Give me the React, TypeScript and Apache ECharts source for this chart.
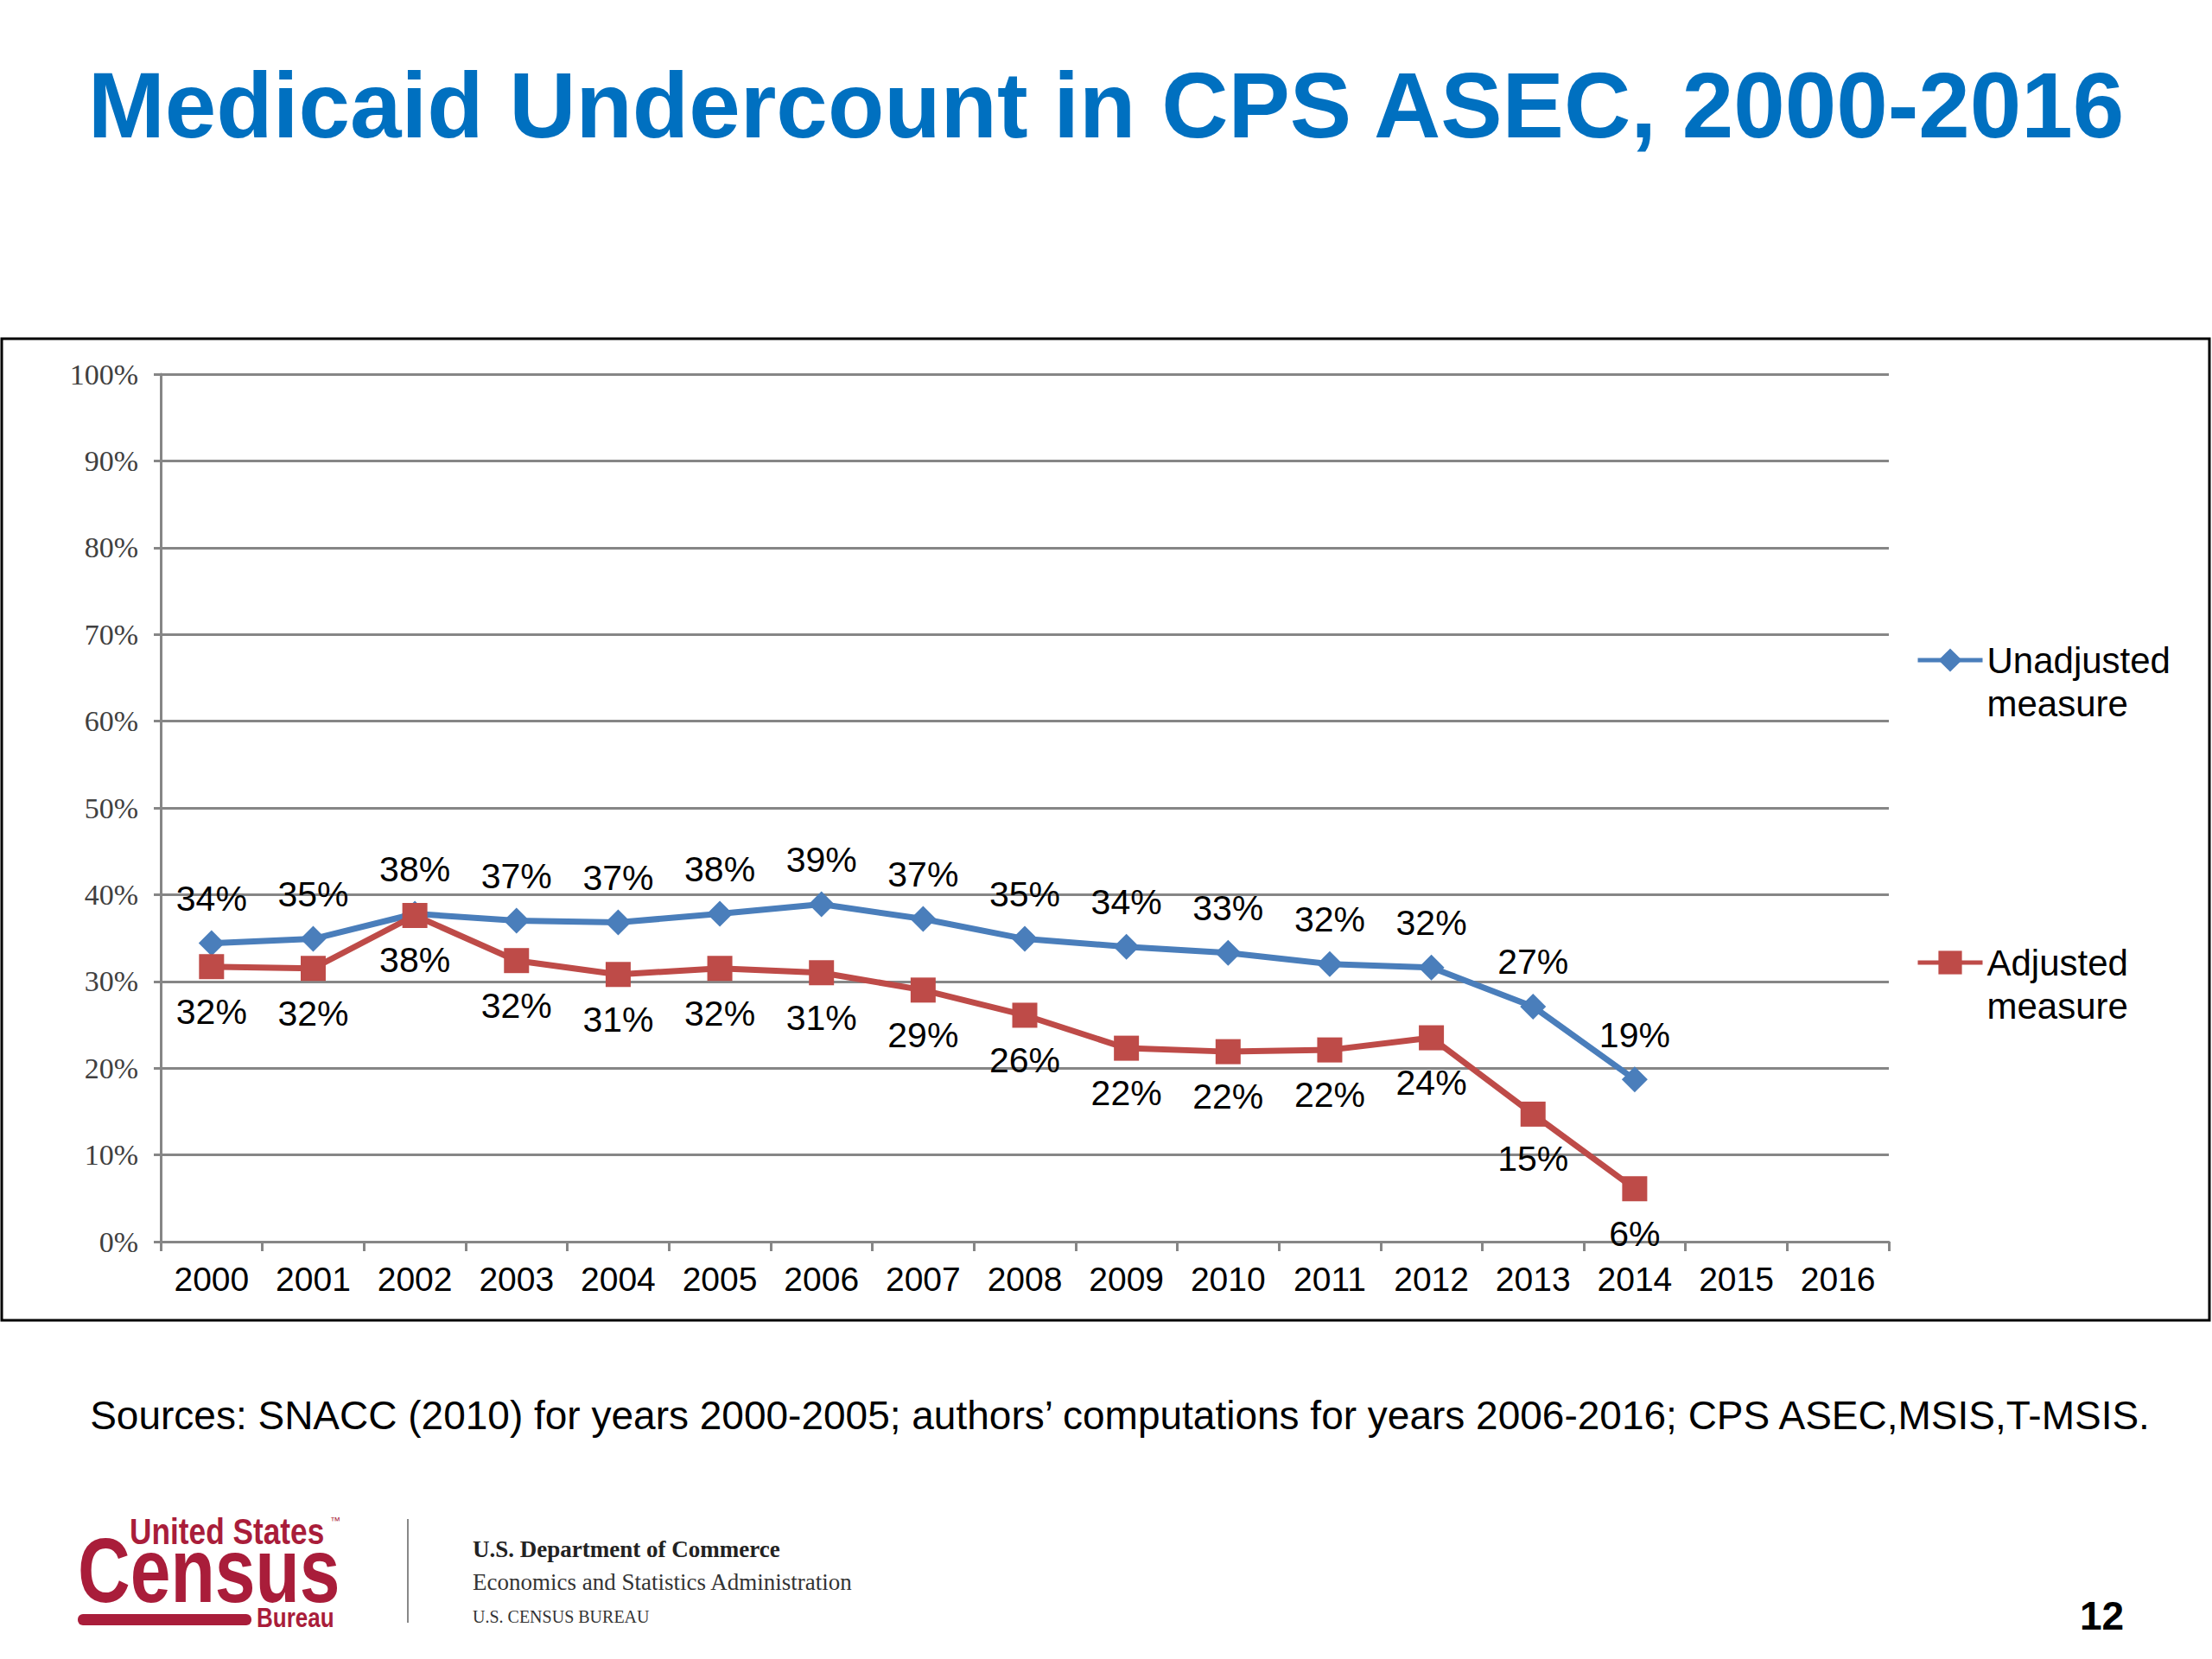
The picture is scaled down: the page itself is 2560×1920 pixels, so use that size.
import React, { useEffect, useRef } from "react";
import * as echarts from "echarts";

const years = [
  "2000", "2001", "2002", "2003", "2004", "2005", "2006", "2007", "2008",
  "2009", "2010", "2011", "2012", "2013", "2014", "2015", "2016",
];

// percent values (2015 and 2016 have no data)
const unadjusted = [
  34.4, 34.9, 37.8, 37.0, 36.8, 37.8, 38.9, 37.2, 34.9, 34.0, 33.3, 32.0,
  31.6, 27.1, 18.7, null, null,
];
const adjusted = [
  31.7, 31.5, 37.6, 32.4, 30.8, 31.5, 31.0, 29.0, 26.1, 22.3, 21.9, 22.1,
  23.5, 14.7, 6.1, null, null,
];

const seriesNames = ["Unadjusted\nmeasure", "Adjusted\nmeasure"];

const SANS = "'Liberation Sans', Arial, sans-serif";
const SERIF = "'Liberation Serif', 'Times New Roman', serif";
const CENSUS_RED = "#A91D3A";

const App: React.FC = () => {
  const chartRef = useRef<HTMLDivElement>(null);

  useEffect(() => {
    document.body.style.margin = "0";
    if (!chartRef.current) return;

    const chart = echarts.init(chartRef.current, undefined, { renderer: "svg" });

    const pct = (p: any) => Math.round(p.value) + "%";

    const option: echarts.EChartsOption = {
      animation: false,
      backgroundColor: "#ffffff",
      title: {
        text: "Medicaid Undercount in CPS ASEC, 2000-2016",
        left: "center",
        top: 63,
        textStyle: {
          fontFamily: SANS,
          fontSize: 107,
          fontWeight: "bold",
          color: "#0070C0",
        },
      },
      grid: {
        left: 186,
        right: 374,
        top: 433,
        bottom: 483,
      },
      legend: {
        data: seriesNames,
        orient: "vertical",
        left: 2217,
        top: 689,
        padding: 0,
        itemWidth: 75,
        itemHeight: 34,
        itemGap: 200,
        // empty first line so the icon sits beside the first text line
        formatter: (name: string) => "\n" + name,
        lineStyle: { width: 5 },
        textStyle: {
          fontFamily: SANS,
          fontSize: 42,
          color: "#000",
          lineHeight: 50,
        },
      },
      xAxis: {
        type: "category",
        data: years,
        boundaryGap: true,
        axisLine: { lineStyle: { color: "#868686", width: 3 } },
        axisTick: { show: true, length: 11, lineStyle: { color: "#868686", width: 3 } },
        axisLabel: {
          interval: 0,
          margin: 24,
          fontFamily: SANS,
          fontSize: 39,
          color: "#000",
        },
      },
      yAxis: {
        type: "value",
        min: 0,
        max: 100,
        interval: 10,
        axisLine: { show: true, lineStyle: { color: "#868686", width: 3 } },
        axisTick: { show: true, length: 8, lineStyle: { color: "#868686", width: 3 } },
        axisLabel: {
          formatter: "{value}%",
          margin: 26,
          fontFamily: SERIF,
          fontSize: 34,
          color: "#404040",
        },
        splitLine: { lineStyle: { color: "#868686", width: 3 } },
      },
      series: [
        {
          name: seriesNames[0],
          type: "line",
          data: unadjusted,
          symbol: "diamond",
          symbolSize: [30, 30],
          color: "#4A7EBB",
          lineStyle: { width: 7 },
          label: {
            show: true,
            position: "top",
            distance: 16,
            formatter: pct,
            fontFamily: SANS,
            fontSize: 41,
            color: "#000",
          },
        },
        {
          name: seriesNames[1],
          type: "line",
          data: adjusted,
          symbol: "rect",
          symbolSize: 29,
          color: "#BE4B48",
          lineStyle: { width: 7 },
          label: {
            show: true,
            position: "bottom",
            distance: 17,
            formatter: pct,
            fontFamily: SANS,
            fontSize: 41,
            color: "#000",
          },
        },
      ],
      graphic: [
        {
          type: "rect",
          shape: { x: 2, y: 392, width: 2555, height: 1136 },
          style: { fill: "none", stroke: "#000", lineWidth: 3 },
          silent: true,
        },
        {
          type: "text",
          x: 1296,
          y: 1638,
          style: {
            text: "Sources: SNACC (2010) for years 2000-2005; authors\u2019 computations for years 2006-2016; CPS ASEC,MSIS,T-MSIS.",
            font: `46px ${SANS}`,
            fill: "#000",
            align: "center",
            verticalAlign: "middle",
          },
        },
        // Census Bureau logo
        {
          type: "text",
          x: 150,
          y: 1772,
          scaleX: 0.84,
          style: {
            text: "United States",
            font: `bold 42px ${SANS}`,
            fill: CENSUS_RED,
            verticalAlign: "middle",
          },
        },
        {
          type: "text",
          x: 382,
          y: 1760,
          style: {
            text: "\u2122",
            font: `12px ${SANS}`,
            fill: CENSUS_RED,
            verticalAlign: "middle",
          },
        },
        {
          type: "text",
          x: 90,
          y: 1818,
          scaleX: 0.8,
          style: {
            text: "Census",
            font: `bold 105px ${SANS}`,
            fill: CENSUS_RED,
            verticalAlign: "middle",
          },
        },
        {
          type: "rect",
          shape: { x: 90, y: 1868, width: 201, height: 13, r: 6 },
          style: { fill: CENSUS_RED },
        },
        {
          type: "text",
          x: 297,
          y: 1872,
          scaleX: 0.84,
          style: {
            text: "Bureau",
            font: `bold 31px ${SANS}`,
            fill: CENSUS_RED,
            verticalAlign: "middle",
          },
        },
        {
          type: "line",
          shape: { x1: 472, y1: 1758, x2: 472, y2: 1878 },
          style: { stroke: "#888", lineWidth: 2 },
        },
        {
          type: "text",
          x: 547,
          y: 1793,
          style: {
            text: "U.S. Department of Commerce",
            font: `bold 27px ${SERIF}`,
            fill: "#222",
            verticalAlign: "middle",
          },
        },
        {
          type: "text",
          x: 547,
          y: 1831,
          style: {
            text: "Economics and Statistics Administration",
            font: `27px ${SERIF}`,
            fill: "#333",
            verticalAlign: "middle",
          },
        },
        {
          type: "text",
          x: 547,
          y: 1871,
          style: {
            text: "U.S. CENSUS BUREAU",
            font: `20px ${SERIF}`,
            fill: "#333",
            verticalAlign: "middle",
          },
        },
        {
          type: "text",
          x: 2407,
          y: 1870,
          style: {
            text: "12",
            font: `bold 46px ${SANS}`,
            fill: "#000",
            verticalAlign: "middle",
          },
        },
      ],
    };

    chart.setOption(option);

    return () => {
      chart.dispose();
    };
  }, []);

  return <div ref={chartRef} style={{ width: "2560px", height: "1920px" }} />;
};

export default App;
